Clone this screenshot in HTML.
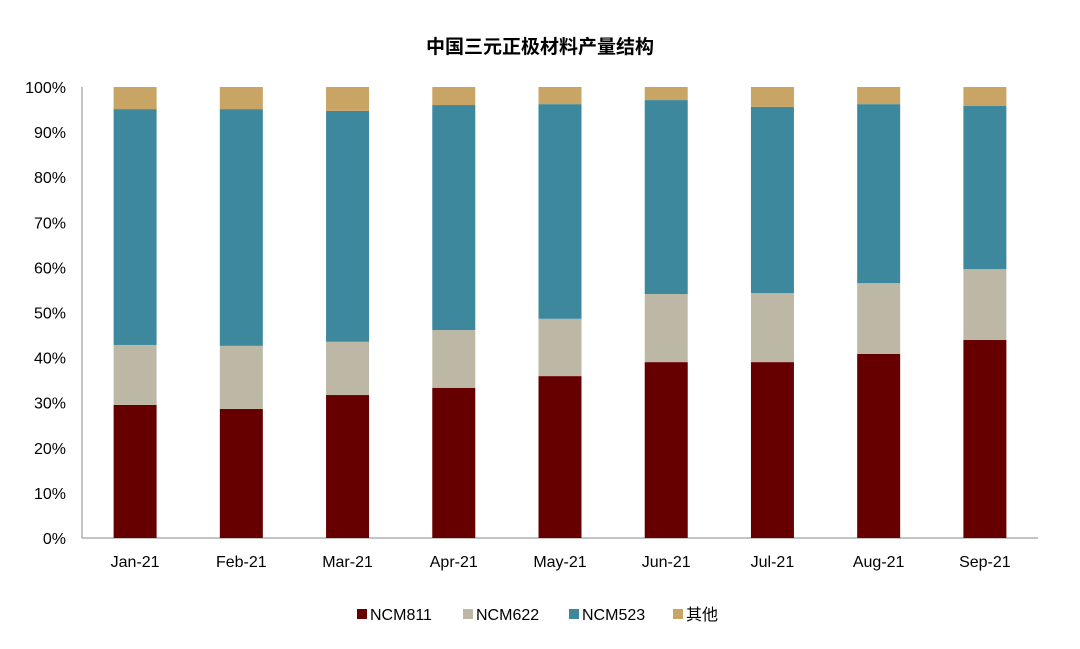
<!DOCTYPE html>
<html><head><meta charset="utf-8"><style>
body{margin:0;background:#fff;width:1080px;height:644px;overflow:hidden}
text{font-family:"Liberation Sans","Noto Sans CJK SC",sans-serif}
</style></head><body>
<svg id="c" width="1080" height="644">
<text x="540" y="53" text-anchor="middle" font-size="19" font-weight="bold" fill="#000">中国三元正极材料产量结构</text>
</svg>
<script>
const categories=["Jan-21","Feb-21","Mar-21","Apr-21","May-21","Jun-21","Jul-21","Aug-21","Sep-21"];
const ncm811=[29.5,28.6,31.7,33.3,35.9,39.0,39.0,40.8,43.9];
const ncm622=[13.3,14.0,11.8,12.8,12.7,15.1,15.3,15.7,15.7];
const ncm523=[52.3,52.5,51.2,49.9,47.6,43.0,41.3,39.7,36.2];
const other=[4.9,4.9,5.3,4.0,3.8,2.9,4.4,3.8,4.2];
const yTicks=[0,10,20,30,40,50,60,70,80,90,100];
const seriesNames=["NCM811","NCM622","NCM523","其他"];
const colors=["#660000","#bcb8a5","#3e889e","#c8a465"];
const svg=document.getElementById('c');const NS="http://www.w3.org/2000/svg";
const x0=82,x1=1038,y0=538,y100=87;
const y=v=>y0-(v/100)*(y0-y100);
const step=(x1-x0)/categories.length;
const xc=i=>x0+step*(i+0.5);
function mk(t,a){const e=document.createElementNS(NS,t);for(const k in a)e.setAttribute(k,a[k]);svg.appendChild(e);return e;}
yTicks.forEach(t=>{const e=mk('text',{x:66,y:y(t)+6,'text-anchor':'end','font-size':'16',fill:'#000'});e.textContent=t+'%';

});
const ax=mk('line',{x1:x0,y1:y100,x2:x0,y2:y0,stroke:'#888'});


const xa=mk('line',{x1:x0,y1:y0,x2:x1,y2:y0,stroke:'#888'});


const series=[ncm811,ncm622,ncm523,other];
categories.forEach((c,i)=>{let acc=0;
series.forEach((s,k)=>{const r=mk('rect',{x:xc(i)-21.5,y:y(acc+s[i]),width:43,height:y(acc)-y(acc+s[i]),fill:colors[k]});acc+=s[i];

});
const t=mk('text',{x:xc(i),y:567,'text-anchor':'middle','font-size':'16',fill:'#000'});t.textContent=c;


});
const lx=[357,463,569,673];
seriesNames.forEach((n,k)=>{const r=mk('rect',{x:lx[k],y:609,width:10,height:10,fill:colors[k]});


const t=mk('text',{x:lx[k]+13,y:620,'font-size':'16',fill:'#000'});t.textContent=n;

});
</script>
</body></html>
